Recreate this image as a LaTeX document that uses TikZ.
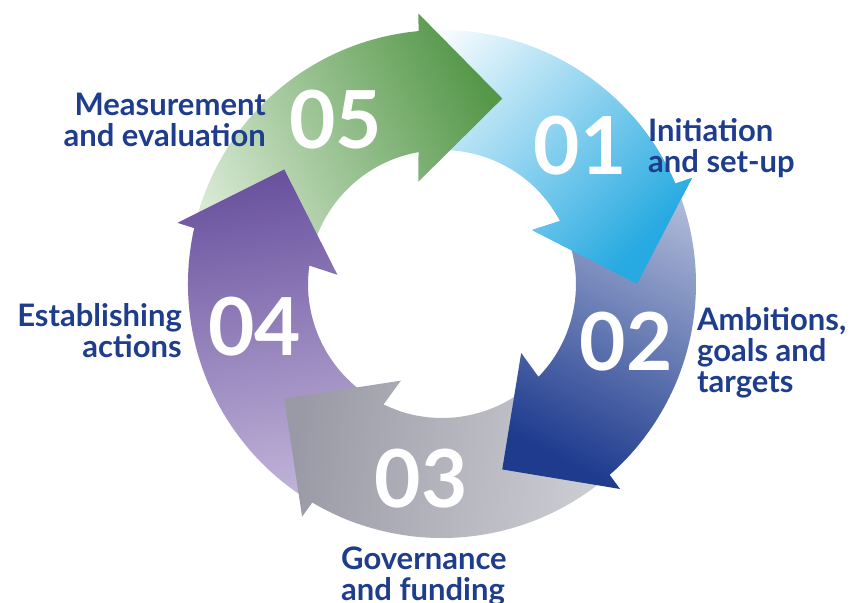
\documentclass[tikz,border=0pt]{standalone}
\usepackage{fontspec}
\setmainfont{Lato}
\definecolor{txtblue}{HTML}{1F3D8D}
\definecolor{cyanA}{HTML}{FFFFFF}
\definecolor{cyanB}{HTML}{27AAE1}
\definecolor{blueA}{HTML}{BCC5DF}
\definecolor{blueB}{HTML}{1E3B8E}
\definecolor{grayA}{HTML}{D3D4D9}
\definecolor{grayB}{HTML}{9A9AA6}
\definecolor{purpA}{HTML}{C6BADC}
\definecolor{purpB}{HTML}{6A529F}
\definecolor{greenA}{HTML}{D8E9D4}
\definecolor{greenB}{HTML}{56984A}
\newcommand{\stagepath}[1]{({#1+107}:254) arc[start angle={#1+107}, end angle={#1+23.3}, radius=254] -- ({#1+22.98}:271.5) -- (#1:195) -- ({#1+30.96}:105) -- ({#1+28.1}:134) arc[start angle={#1+28.1}, end angle={#1+107}, radius=134] -- cycle}
\tikzset{
  num/.style={text=white,font=\fontsize{80}{80}\selectfont\bfseries,inner sep=0pt},
  lbl/.style={text=txtblue,font=\fontsize{31}{31}\selectfont\bfseries,inner sep=0pt}
}
\begin{document}
\begin{tikzpicture}[x=1pt,y=1pt]
	\useasboundingbox (-442,-318) rectangle (408,284);
	\shade [top color=cyanA,bottom color=cyanB,shading angle=45] \stagepath{0};
	\shade [top color=greenA,bottom color=greenB,shading angle=117] \stagepath{72};
	\shade [top color=purpA,bottom color=purpB,shading angle=189] \stagepath{144};
	\shade [top color=grayA,bottom color=grayB,shading angle=261] \stagepath{216};
	\shade [top color=blueA,bottom color=blueB,shading angle=333] \stagepath{288};
	\begin{scope}
	\clip (0,0) -- (-8:330) -- (16:330) -- (42:330) -- cycle;
	\shade [top color=cyanA,bottom color=cyanB,shading angle=45] \stagepath{0};
	\end{scope}
	\node [num] (n01) at (138,138) {01};
	\node [num] (n02) at (184,-58) {02};
	\node [num] (n03) at (-21,-195) {03};
	\node [num] (n04) at (-187,-43) {04};
	\node [num] (n05) at (-106,164) {05};
	\node [lbl,align=left,anchor=north west] (init) at (206,166) {Initiation\\and set-up};
	\node [lbl,align=left,anchor=north west] (goals) at (255,-23) {Ambitions,\\goals and\\targets};
	\node [lbl,align=left,anchor=north west] (gov) at (-101,-263) {Governance\\and funding};
	\node [lbl,align=right,anchor=north east] (act) at (-260,-19) {Establishing\\actions};
	\node [lbl,align=right,anchor=north east] (eval) at (-176,191) {Measurement\\and evaluation};
\end{tikzpicture}
\end{document}
